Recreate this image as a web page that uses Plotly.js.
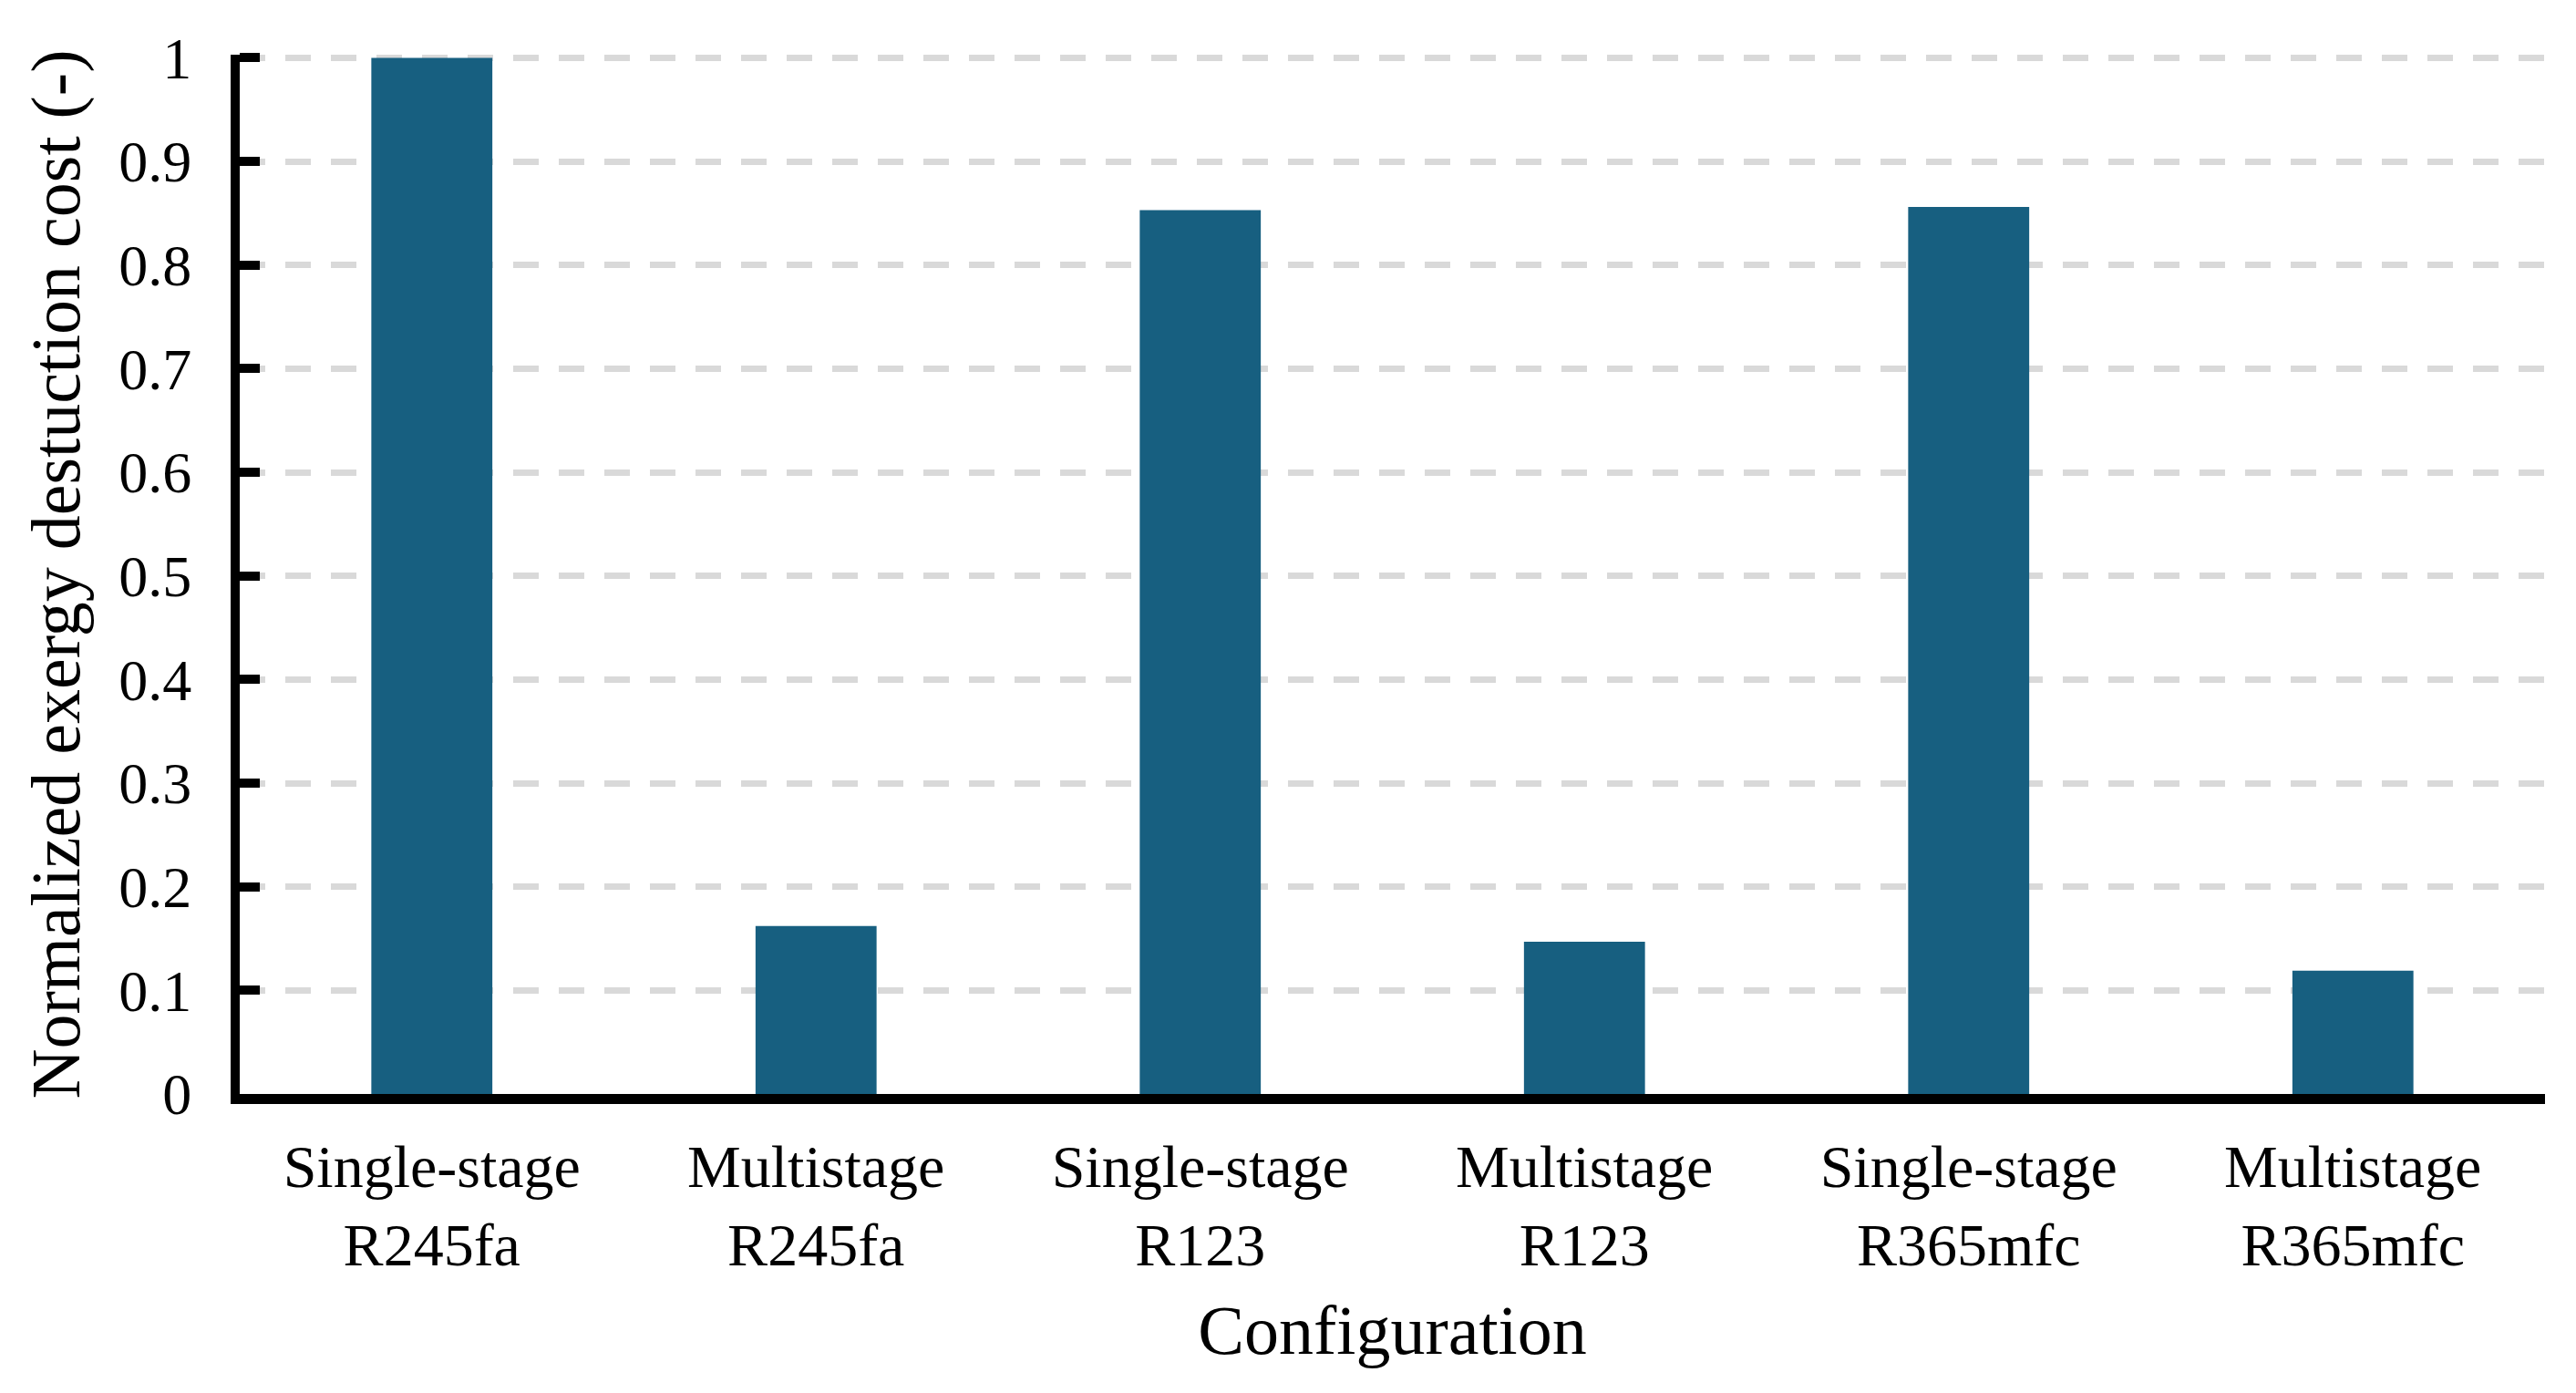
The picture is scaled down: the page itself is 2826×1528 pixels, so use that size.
<!DOCTYPE html>
<html>
<head>
<meta charset="utf-8">
<script src="https://cdn.plot.ly/plotly-3.0.1.min.js"></script>
<style>
  html, body { margin: 0; padding: 0; background: #fff; }
  #chart { width: 2826px; height: 1528px; }
</style>
</head>
<body>
<div id="chart"></div>
<script>
// Normalized exergy destruction cost per configuration
const stages = ["Single-stage", "Multistage", "Single-stage", "Multistage", "Single-stage", "Multistage"];
const fluids = ["R245fa", "R245fa", "R123", "R123", "R365mfc", "R365mfc"];
const costValues = [1.0, 0.162, 0.853, 0.147, 0.856, 0.119];
const yTicks = [0, 0.1, 0.2, 0.3, 0.4, 0.5, 0.6, 0.7, 0.8, 0.9, 1];

const BAR_COLOR = "#175f80";
const GRID_COLOR = "#d9d9d9";
const FONT = "'Liberation Serif', 'Times New Roman', serif";

const categories = stages.map((s, i) => s + "<br>" + fluids[i]);

Plotly.newPlot(
  "chart",
  [
    {
      type: "bar",
      x: categories,
      y: costValues,
      marker: { color: BAR_COLOR, line: { width: 0 } },
      hoverinfo: "x+y",
    },
  ],
  {
    width: 2826,
    height: 1528,
    paper_bgcolor: "#fff",
    plot_bgcolor: "#fff",
    font: { family: FONT, size: 66, color: "#000" },
    margin: { l: 263, r: 34, t: 60, b: 328 },
    showlegend: false,
    bargap: 0.685,
    xaxis: {
      type: "category",
      showgrid: false,
      showline: true,
      linecolor: "#000",
      linewidth: 11,
      ticks: "",
      ticklabelstandoff: 12,
      tickfont: { family: FONT, size: 66, color: "#000" },
      title: { text: "Configuration", font: { family: FONT, size: 76, color: "#000" }, standoff: 35 },
      automargin: false,
    },
    yaxis: {
      // a hair above 1 so the top dashed gridline is still drawn
      range: [0, 1.003],
      tickvals: yTicks,
      ticktext: yTicks.map(String),
      showgrid: true,
      gridcolor: GRID_COLOR,
      gridwidth: 7,
      griddash: "28px,22px",
      zeroline: false,
      showline: true,
      linecolor: "#000",
      linewidth: 10,
      ticks: "inside",
      ticklen: 22,
      tickwidth: 10,
      tickcolor: "#000",
      ticklabelstandoff: 30,
      tickfont: { family: FONT, size: 64, color: "#000" },
      title: { text: "Normalized exergy destuction cost (-)", font: { family: FONT, size: 76, color: "#000" }, standoff: 22 },
      automargin: false,
    },
  },
  { displayModeBar: false, staticPlot: true }
);
</script>
</body>
</html>
